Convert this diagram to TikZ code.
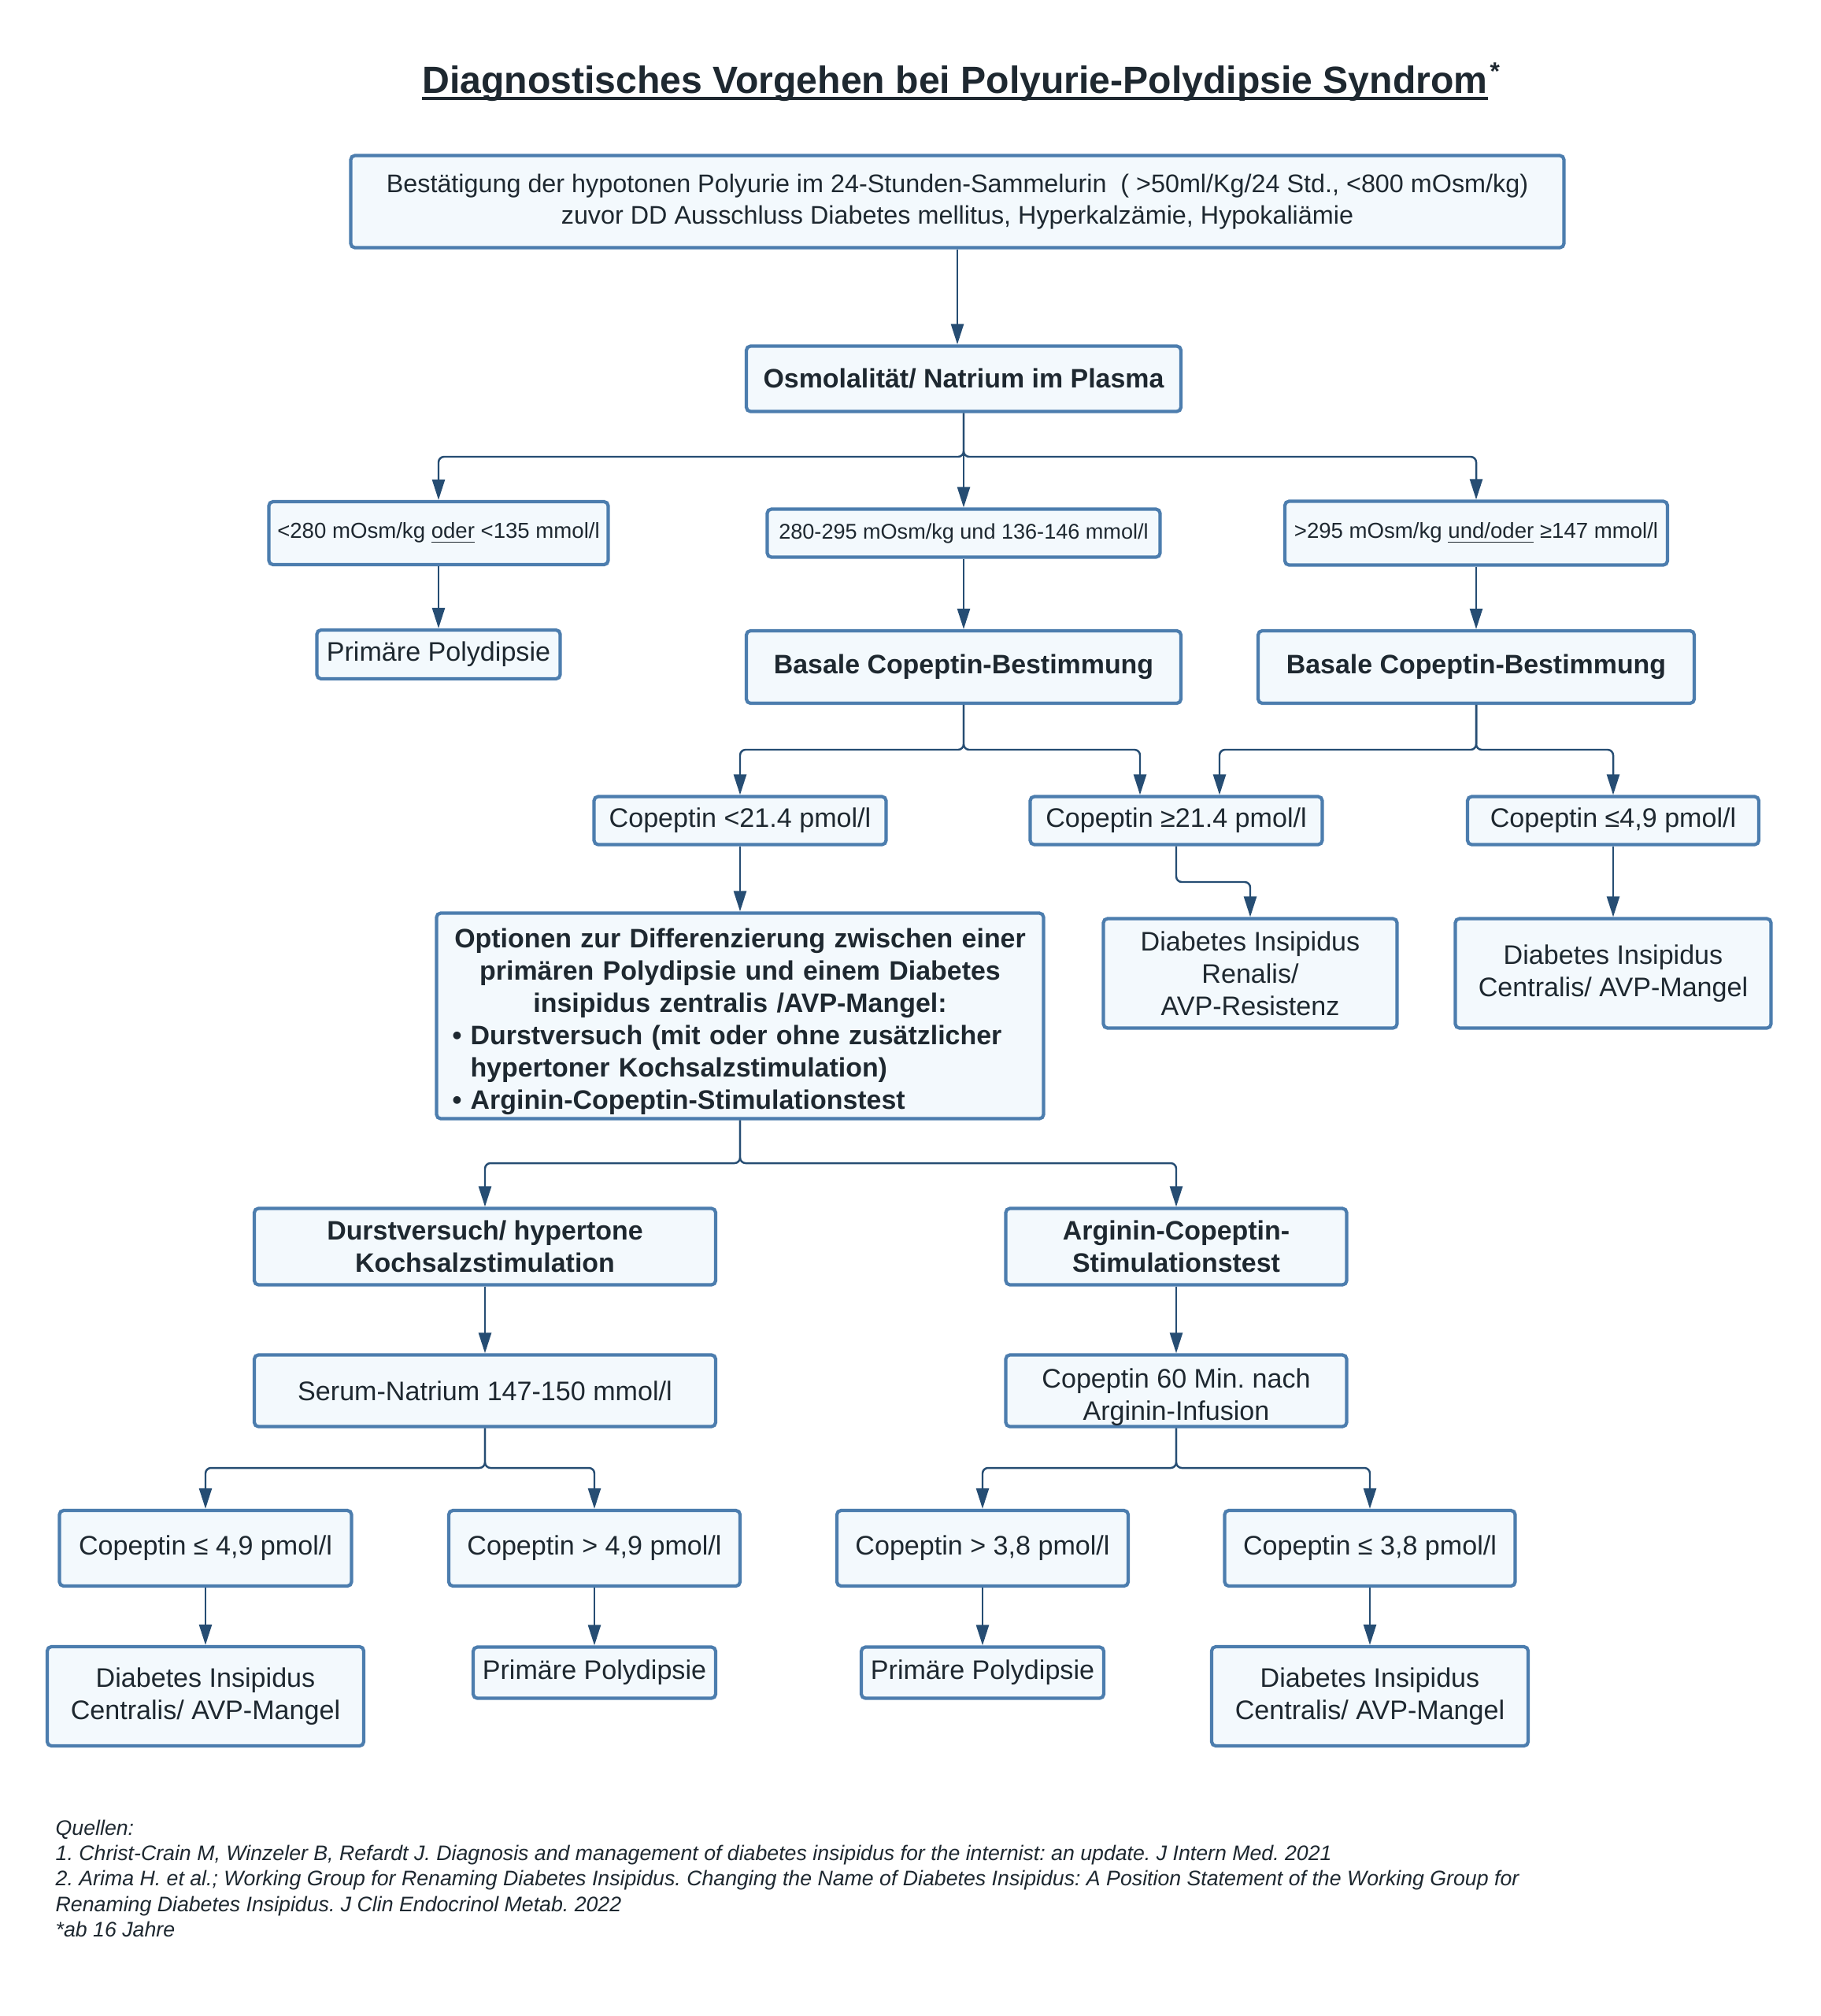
\documentclass[tikz,border=0pt]{standalone}
\usepackage{fontspec}
\setmainfont{Liberation Sans}
\usetikzlibrary{arrows.meta}
\definecolor{boxline}{HTML}{4C7DAE}
\definecolor{boxfill}{HTML}{F3F9FD}
\definecolor{arrline}{HTML}{264D73}
\definecolor{txt}{HTML}{1E2830}
\frenchspacing
\begin{document}
\begin{tikzpicture}[
    box/.style={draw=boxline, fill=boxfill, line width=1.2pt, rounded corners=1.5pt, align=center, text=txt, inner sep=0pt, font=\fontsize{9.7}{11.7}\selectfont},
    bbox/.style={box, font=\fontsize{9.65}{11.7}\selectfont\bfseries},
    sbox/.style={box, font=\fontsize{7.85}{9.5}\selectfont},
    arr/.style={draw=arrline, line width=0.7pt, rounded corners=2pt, -{Triangle[length=2.6mm,width=1.6mm]}}
]
    \fill[white] (0,0) rectangle (23.13,-25.6);
    \useasboundingbox (0,0) rectangle (23.13,-25.6);

    % title
    \node[anchor=base, inner sep=0pt, text=txt, font=\fontsize{13.7}{16}\selectfont\bfseries] (title) at (12.13,-1.18) {Diagnostisches Vorgehen bei Polyurie-Polydipsie Syndrom};
    \node[anchor=north west, inner sep=0pt, text=txt, font=\fontsize{9}{9}\selectfont\bfseries] (ast) at ([xshift=0.5pt,yshift=1pt]title.north east) {*};
    \draw[txt, line width=1pt] ([yshift=-0.07cm]title.base west) -- ([yshift=-0.07cm]title.base east);

    % boxes
    \node[box, minimum width=15.41cm, minimum height=1.17cm, font=\fontsize{9.2}{11.5}\selectfont] (top) at (12.16,-2.56) {Bestätigung der hypotonen Polyurie im 24-Stunden-Sammelurin\ \ ( >50ml/Kg/24 Std., <800 mOsm/kg)\\zuvor DD Ausschluss Diabetes mellitus, Hyperkalzämie, Hypokaliämie};
    \node[bbox, minimum width=5.52cm, minimum height=0.83cm] (osm) at (12.24,-4.81) {Osmolalität/ Natrium im Plasma};

    \node[sbox, minimum width=4.31cm, minimum height=0.80cm] (r1) at (5.57,-6.77) {<280 mOsm/kg \underline{oder} <135 mmol/l};
    \node[sbox, minimum width=4.99cm, minimum height=0.61cm, font=\fontsize{7.7}{9.5}\selectfont] (r2) at (12.24,-6.77) {280-295 mOsm/kg und 136-146 mmol/l};
    \node[sbox, minimum width=4.86cm, minimum height=0.81cm] (r3) at (18.75,-6.77) {>295 mOsm/kg \underline{und/oder} ≥147 mmol/l};

    \node[box, minimum width=3.09cm, minimum height=0.62cm] (pp1) at (5.57,-8.31) {Primäre Polydipsie};
    \node[bbox, minimum width=5.52cm, minimum height=0.92cm] (bc1) at (12.24,-8.47) {Basale Copeptin-Bestimmung};
    \node[bbox, minimum width=5.54cm, minimum height=0.92cm] (bc2) at (18.75,-8.47) {Basale Copeptin-Bestimmung};

    \node[box, minimum width=3.71cm, minimum height=0.61cm] (cp1) at (9.40,-10.42) {Copeptin <21.4 pmol/l};
    \node[box, minimum width=3.71cm, minimum height=0.61cm] (cp2) at (14.94,-10.42) {Copeptin ≥21.4 pmol/l};
    \node[box, minimum width=3.70cm, minimum height=0.61cm] (cp3) at (20.49,-10.42) {Copeptin ≤4,9 pmol/l};

    \node[bbox, text width=7.31cm, minimum width=7.71cm, minimum height=2.61cm] (opt) at (9.40,-12.90) {\rule{0pt}{11.2pt}Optionen zur Differenzierung zwischen einer\\primären Polydipsie und einem Diabetes\\insipidus zentralis /AVP-Mangel:\\\makebox[\linewidth][l]{• Durstversuch (mit oder ohne zusätzlicher}\\\makebox[\linewidth][l]{\hspace*{0.23cm}hypertoner Kochsalzstimulation)}\\\makebox[\linewidth][l]{• Arginin-Copeptin-Stimulationstest}};
    \node[box, minimum width=3.73cm, minimum height=1.39cm] (dir) at (15.88,-12.36) {Diabetes Insipidus\\Renalis/\\AVP-Resistenz};
    \node[box, minimum width=4.01cm, minimum height=1.39cm] (dic1) at (20.49,-12.36) {Diabetes Insipidus\\Centralis/ AVP-Mangel};

    \node[bbox, minimum width=5.86cm, minimum height=0.97cm] (durst) at (6.16,-15.83) {Durstversuch/ hypertone\\Kochsalzstimulation};
    \node[bbox, minimum width=4.33cm, minimum height=0.97cm] (arg) at (14.94,-15.83) {Arginin-Copeptin-\\Stimulationstest};
    \node[box, minimum width=5.86cm, minimum height=0.91cm] (serum) at (6.16,-17.66) {Serum-Natrium 147-150 mmol/l};
    \node[box, minimum width=4.33cm, minimum height=0.91cm] (c60) at (14.94,-17.66) {\rule{0pt}{11.6pt}Copeptin 60 Min. nach\\Arginin-Infusion};

    \node[box, minimum width=3.71cm, minimum height=0.96cm] (b1) at (2.61,-19.66) {Copeptin ≤ 4,9 pmol/l};
    \node[box, minimum width=3.70cm, minimum height=0.96cm] (b2) at (7.55,-19.66) {Copeptin > 4,9 pmol/l};
    \node[box, minimum width=3.70cm, minimum height=0.96cm] (b3) at (12.48,-19.66) {Copeptin > 3,8 pmol/l};
    \node[box, minimum width=3.69cm, minimum height=0.96cm] (b4) at (17.40,-19.66) {Copeptin ≤ 3,8 pmol/l};

    \node[box, minimum width=4.02cm, minimum height=1.26cm] (e1) at (2.61,-21.54) {Diabetes Insipidus\\Centralis/ AVP-Mangel};
    \node[box, minimum width=3.08cm, minimum height=0.65cm] (e2) at (7.55,-21.24) {Primäre Polydipsie};
    \node[box, minimum width=3.08cm, minimum height=0.65cm] (e3) at (12.48,-21.24) {Primäre Polydipsie};
    \node[box, minimum width=4.02cm, minimum height=1.26cm] (e4) at (17.40,-21.54) {Diabetes Insipidus\\Centralis/ AVP-Mangel};

    % branch points
    \coordinate (j1) at (12.24,-5.80);
    \coordinate (j2) at (12.24,-9.52);
    \coordinate (j3) at (18.75,-9.52);
    \coordinate (j4) at (14.94,-11.20);
    \coordinate (j5) at (9.40,-14.77);
    \coordinate (j6) at (6.16,-18.64);
    \coordinate (j7) at (14.94,-18.64);

    % connectors
    \draw[arr] (top.south) -- (top.south |- osm.north);
    \draw[arr] (osm.south) -- (j1) -| (r1.north);
    \draw[arr] (osm.south) -- (j1) -| (r3.north);
    \draw[arr] (osm.south) -- (r2.north);
    \draw[arr] (r1.south) -- (pp1.north);
    \draw[arr] (r2.south) -- (bc1.north);
    \draw[arr] (r3.south) -- (bc2.north);
    \draw[arr] (bc1.south) -- (j2) -| (cp1.north);
    \draw[arr] (bc1.south) -- (j2) -| ([xshift=-4.6mm]cp2.north);
    \draw[arr] (bc2.south) -- (j3) -| ([xshift=5.5mm]cp2.north);
    \draw[arr] (bc2.south) -- (j3) -| (cp3.north);
    \draw[arr] (cp1.south) -- (opt.north);
    \draw[arr] (cp2.south) -- (j4) -| (dir.north);
    \draw[arr] (cp3.south) -- (dic1.north);
    \draw[arr] (opt.south) -- (j5) -| (durst.north);
    \draw[arr] (opt.south) -- (j5) -| (arg.north);
    \draw[arr] (durst.south) -- (serum.north);
    \draw[arr] (arg.south) -- (c60.north);
    \draw[arr] (serum.south) -- (j6) -| (b1.north);
    \draw[arr] (serum.south) -- (j6) -| (b2.north);
    \draw[arr] (c60.south) -- (j7) -| (b3.north);
    \draw[arr] (c60.south) -- (j7) -| (b4.north);
    \draw[arr] (b1.south) -- (e1.north);
    \draw[arr] (b2.south) -- (e2.north);
    \draw[arr] (b3.south) -- (e3.north);
    \draw[arr] (b4.south) -- (e4.north);

    % sources
    \node[anchor=north west, inner sep=0pt, align=left, text=txt, font=\fontsize{7.6}{9.2}\selectfont\itshape] (src) at (0.70,-23.10) {Quellen:\\1. Christ-Crain M, Winzeler B, Refardt J. Diagnosis and management of diabetes insipidus for the internist: an update. J Intern Med. 2021\\2. Arima H. et al.; Working Group for Renaming Diabetes Insipidus. Changing the Name of Diabetes Insipidus: A Position Statement of the Working Group for\\Renaming Diabetes Insipidus. J Clin Endocrinol Metab. 2022\\*ab 16 Jahre};
\end{tikzpicture}
\end{document}
